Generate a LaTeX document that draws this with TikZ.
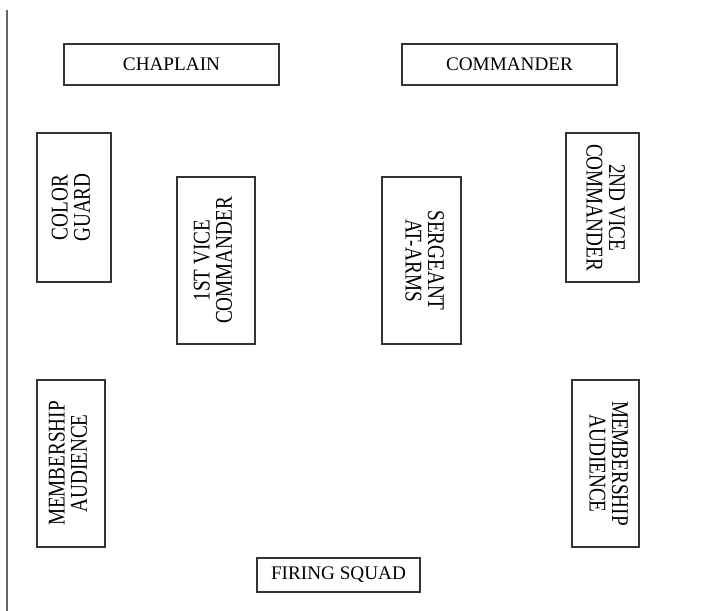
\documentclass[tikz,border=0pt]{standalone}
\usepackage{fontspec}
\setmainfont{Liberation Serif}
\newcommand{\sidetext}[1]{\scalebox{1}[1.25]{\fontsize{14.4}{13}\selectfont\begin{tabular}{@{}c@{}}#1\end{tabular}}}
\begin{document}
\begin{tikzpicture}[x=0.75pt,y=-0.75pt]

          \tikzstyle{post} = [draw=black!80, line width=1.1pt, inner sep=0pt, font=\fontsize{14.4}{16}\selectfont];

          \useasboundingbox (0,0) rectangle (701,611);
          \draw[black!60, line width=0.8pt] (7,10) -- (7,611);

          \node[post, minimum width=161.25pt, minimum height=30.75pt] (chap) at (171.5,64.5) {CHAPLAIN};
          \node[post, minimum width=161.25pt, minimum height=30.75pt] (cmdr) at (509.5,64.5) {COMMANDER};
          \node[post, rotate=90, minimum width=111.75pt, minimum height=55.5pt] (guard) at (74,207.5) {\sidetext{COLOR\\GUARD}};
          \node[post, rotate=90, minimum width=125.25pt, minimum height=58.5pt] (vice1) at (216,260.5) {\sidetext{1ST VICE\\COMMANDER}};
          \node[post, rotate=-90, minimum width=125.25pt, minimum height=59.25pt] (sgt) at (421.5,260.5) {\sidetext{SERGEANT\\AT-ARMS}};
          \node[post, rotate=-90, minimum width=111.75pt, minimum height=54.75pt] (vice2) at (602.5,207.5) {\sidetext{2ND VICE\\COMMANDER}};
          \node[post, rotate=90, minimum width=125.25pt, minimum height=51pt] (audl) at (71,463.5) {\sidetext{MEMBERSHIP\\AUDIENCE}};
          \node[post, rotate=-90, minimum width=125.25pt, minimum height=50.25pt] (audr) at (605.5,463.5) {\sidetext{MEMBERSHIP\\AUDIENCE}};
          \node[post, minimum width=122.25pt, minimum height=25.5pt] (squad) at (338.5,575) {FIRING SQUAD};
        \end{tikzpicture}
\end{document}
